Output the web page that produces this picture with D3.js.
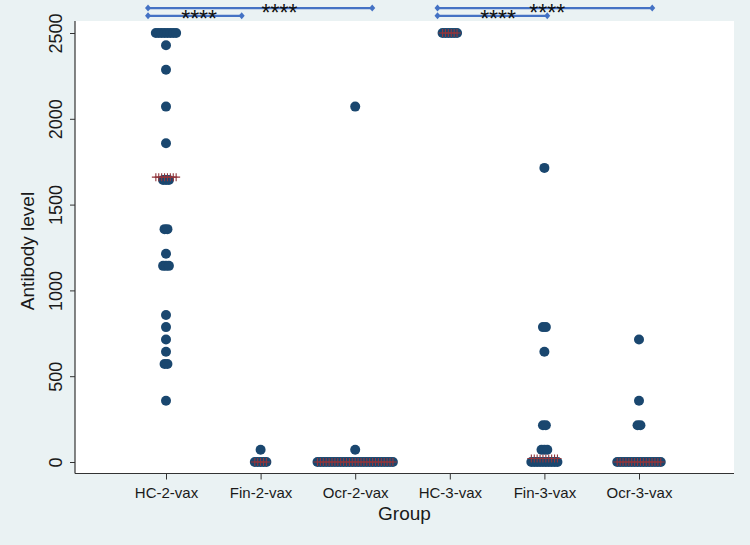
<!DOCTYPE html>
<html>
<head>
<meta charset="utf-8">
<script src="https://cdn.jsdelivr.net/npm/d3@7"></script>
<style>
  html, body { margin: 0; padding: 0; background: #eaf2f3; }
  svg { display: block; font-family: "Liberation Sans", Arial, sans-serif; }
</style>
</head>
<body>
<svg id="chart" width="750" height="545"></svg>
<script>
// ---------------- data (values binned as in Stata dotplot) ----------------
const groups = ["HC-2-vax", "Fin-2-vax", "Ocr-2-vax", "HC-3-vax", "Fin-3-vax", "Ocr-3-vax"];

const hc2vax = [2500, 2500, 2500, 2500, 2500, 2500, 2500, 2500,
                2429, 2286, 2071, 1857, 1643, 1643, 1643,
                1357, 1357, 1214, 1143, 1143, 1143,
                857, 786, 714, 643, 571, 571, 357];
const fin2vax = [71, 0, 0, 0, 0, 0];
const ocr2vax = [2071, 71,
                 0, 0, 0, 0, 0, 0, 0, 0, 0, 0, 0, 0, 0, 0, 0, 0, 0, 0, 0, 0, 0, 0, 0, 0, 0, 0, 0];
const hc3vax = [2500, 2500, 2500, 2500, 2500, 2500];
const fin3vax = [1714, 786, 786, 643, 214, 214, 71, 71, 71,
                 0, 0, 0, 0, 0, 0, 0, 0, 0, 0];
const ocr3vax = [714, 357, 214, 214,
                 0, 0, 0, 0, 0, 0, 0, 0, 0, 0, 0, 0, 0, 0, 0, 0];

const medians = [1660, 0, 0, 2500, 20, 0];

const yTicks = [0, 500, 1000, 1500, 2000, 2500];

// significance brackets (group units on x, antibody units on y)
const bracketFrom = [0.81, 0.81, 3.87, 3.87];
const bracketTo   = [1.80, 3.18, 5.03, 6.14];
const bracketLevel = [2600, 2645, 2600, 2645];
const bracketLabel = ["****", "****", "****", "****"];
const labelAt = [1.35, 2.2, 4.51, 5.03];

// ---------------- drawing ----------------
const series = [hc2vax, fin2vax, ocr2vax, hc3vax, fin3vax, ocr3vax];

const W = 750, H = 545;
const plot = { left: 75, right: 734, top: 21, bottom: 473.5 };

const svg = d3.select("#chart");
svg.append("rect").attr("width", W).attr("height", H).attr("fill", "#eaf2f3");
svg.append("rect")
  .attr("x", plot.left).attr("y", plot.top)
  .attr("width", plot.right - plot.left).attr("height", plot.bottom - plot.top)
  .attr("fill", "#ffffff");

const x = d3.scaleLinear().domain([1, 6]).range([166, 639]);
const y = d3.scaleLinear().domain([0, 2500]).range([462, 33]);

const navy = "#1a476f";
const maroon = "#90353b";
const spacing = 2.9;
const r = 5;

// y axis
const yAxis = d3.axisLeft(y).tickValues(yTicks).tickSize(5).tickPadding(0).tickFormat(d3.format("d"));
const gy = svg.append("g").attr("transform", `translate(${plot.left},0)`).call(yAxis);
gy.select(".domain").remove();
gy.selectAll(".tick line").attr("stroke", "#333").attr("stroke-width", 1);
gy.selectAll(".tick text")
  .attr("x", 0).attr("dy", null)
  .attr("transform", "translate(-13,0) rotate(-90)")
  .attr("text-anchor", "middle")
  .attr("font-size", 18)
  .attr("fill", "#1a1a1a");
svg.append("line")
  .attr("x1", plot.left).attr("x2", plot.left)
  .attr("y1", plot.top).attr("y2", plot.bottom)
  .attr("stroke", "#333").attr("stroke-width", 1.2);

// x axis
const xAxis = d3.axisBottom(x).tickValues([1, 2, 3, 4, 5, 6]).tickSize(6).tickPadding(8)
  .tickFormat((d) => groups[d - 1]);
const gx = svg.append("g").attr("transform", `translate(0,${plot.bottom})`).call(xAxis);
gx.select(".domain").remove();
gx.selectAll(".tick line").attr("stroke", "#333").attr("stroke-width", 1);
gx.selectAll(".tick text").attr("font-size", 15).attr("fill", "#1a1a1a");
svg.append("line")
  .attr("x1", plot.left).attr("x2", plot.right)
  .attr("y1", plot.bottom).attr("y2", plot.bottom)
  .attr("stroke", "#333").attr("stroke-width", 1.2);

// axis titles
svg.append("text")
  .attr("transform", `translate(34,${(192 + 310) / 2}) rotate(-90)`)
  .attr("text-anchor", "middle")
  .attr("font-size", 19).attr("fill", "#1a1a1a")
  .text("Antibody level");
svg.append("text")
  .attr("x", (plot.left + plot.right) / 2).attr("y", 520)
  .attr("text-anchor", "middle")
  .attr("font-size", 19).attr("fill", "#1a1a1a")
  .text("Group");

// dots
const dotLayer = svg.append("g");
const medLayer = svg.append("g");
series.forEach((vals, gi) => {
  const counts = d3.rollups(vals, (v) => v.length, (d) => d);
  const cx0 = x(gi + 1);
  let maxN = 0;
  counts.forEach(([val, n]) => {
    maxN = Math.max(maxN, n);
    const pts = d3.range(n).map((i) => ({ cx: cx0 + (i - (n - 1) / 2) * spacing, cy: y(val) }));
    dotLayer.selectAll(null).data(pts).enter().append("circle")
      .attr("cx", (d) => d.cx).attr("cy", (d) => d.cy).attr("r", r)
      .attr("fill", navy);
  });
  // median row of plus markers spanning widest row
  const my = y(medians[gi]);
  const plus = d3.range(maxN).map((i) => cx0 + (i - (maxN - 1) / 2) * spacing);
  medLayer.selectAll(null).data(plus).enter().append("path")
    .attr("d", (cx) => `M${cx - 4},${my}H${cx + 4}M${cx},${my - 4}V${my + 4}`)
    .attr("stroke", maroon).attr("stroke-width", 1.1).attr("fill", "none");
});

// significance brackets
const blue = "#4472c4";
const bl = svg.append("g");
bracketFrom.forEach((f, i) => {
  const x1 = x(f), x2 = x(bracketTo[i]), yy = y(bracketLevel[i]);
  bl.append("line").attr("x1", x1).attr("x2", x2).attr("y1", yy).attr("y2", yy)
    .attr("stroke", blue).attr("stroke-width", 2.2);
  [x1, x2].forEach((xx) => {
    bl.append("path")
      .attr("d", `M${xx},${yy - 3.5}L${xx + 3},${yy}L${xx},${yy + 3.5}L${xx - 3},${yy}Z`)
      .attr("fill", blue);
  });
  bl.append("text")
    .attr("x", x(labelAt[i])).attr("y", Math.max(yy + 11, 21))
    .attr("text-anchor", "middle")
    .attr("font-size", 23).attr("fill", "#111")
    .text(bracketLabel[i]);
});
</script>
</body>
</html>
